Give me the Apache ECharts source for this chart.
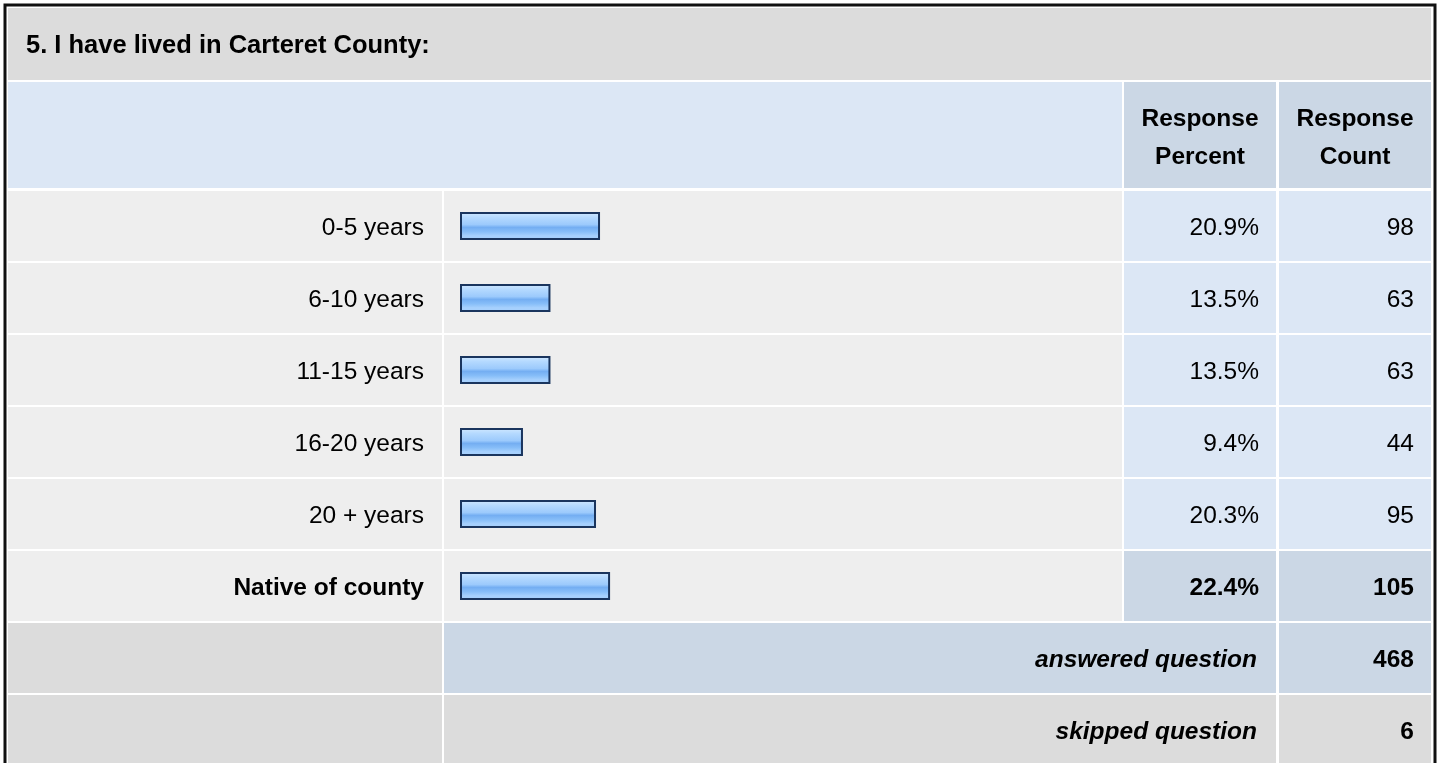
<!DOCTYPE html>
<html>
<head>
<meta charset="utf-8">
<script src="https://cdn.jsdelivr.net/npm/echarts@6/dist/echarts.min.js"></script>
<style>
  html, body { margin: 0; padding: 0; background: #ffffff; }
  #chart { width: 1440px; height: 763px; }
</style>
</head>
<body>
<div id="chart"></div>
<script>
// ---- Data ----
const title = '5. I have lived in Carteret County:';
const headerPercent = 'Response\nPercent';
const headerCount = 'Response\nCount';
const categories = ['0-5 years', '6-10 years', '11-15 years', '16-20 years', '20 + years', 'Native of county'];
const percents = [20.9, 13.5, 13.5, 9.4, 20.3, 22.4];
const counts = [98, 63, 63, 44, 95, 105];
const answeredLabel = 'answered question';
const answeredCount = 468;
const skippedLabel = 'skipped question';
const skippedCount = 6;
const highlightCategory = 'Native of county';

// ---- Layout / style ----
const FONT = '"Liberation Sans", Arial, Helvetica, sans-serif';
const C_GRAY = '#dcdcdc';
const C_ROW = '#eeeeee';
const C_LIGHT = '#dce7f5';
const C_MID = '#cbd7e5';
const X = { l0: 8, l1: 442, b0: 444, b1: 1122, p0: 1124, p1: 1276, c0: 1279, c1: 1431 };
const HALF = 35;
const TXT_DY = 2;

const chart = echarts.init(document.getElementById('chart'), null, { renderer: 'canvas' });

function rect(x0, y0, x1, y1, fill) {
  return { type: 'rect', shape: { x: x0, y: y0, width: x1 - x0, height: y1 - y0 }, style: { fill: fill } };
}
function txt(text, x, y, align, opts) {
  return {
    type: 'text',
    style: Object.assign({
      text: text, x: x, y: y, align: align, verticalAlign: 'middle',
      fontFamily: FONT, fontSize: 24.5, fill: '#000'
    }, opts || {})
  };
}

const rowData = categories.map((c, i) => [percents[i], i, counts[i]]);

const graphics = [
  // title row
  rect(X.l0, 8, X.c1, 80, C_GRAY),
  txt(title, 26, 46, 'left', { fontWeight: 'bold', fontSize: 25.5 }),
  // header row
  rect(X.l0, 82, X.b1, 188, C_LIGHT),
  rect(X.p0, 82, X.p1, 188, C_MID),
  rect(X.c0, 82, X.c1, 188, C_MID),
  txt(headerPercent, (X.p0 + X.p1) / 2, 138, 'center', { fontWeight: 'bold', lineHeight: 38 }),
  txt(headerCount, (X.c0 + X.c1) / 2, 138, 'center', { fontWeight: 'bold', lineHeight: 38 }),
  // answered row
  rect(X.l0, 623, X.l1, 693, C_GRAY),
  rect(X.b0, 623, X.p1, 693, C_MID),
  rect(X.c0, 623, X.c1, 693, C_MID),
  txt(answeredLabel, 1257, 658 + TXT_DY, 'right', { fontWeight: 'bold', fontStyle: 'italic' }),
  txt(String(answeredCount), 1414, 658 + TXT_DY, 'right', { fontWeight: 'bold' }),
  // skipped row
  rect(X.l0, 695, X.l1, 770, C_GRAY),
  rect(X.b0, 695, X.p1, 770, C_GRAY),
  rect(X.c0, 695, X.c1, 770, C_GRAY),
  txt(skippedLabel, 1257, 730 + TXT_DY, 'right', { fontWeight: 'bold', fontStyle: 'italic' }),
  txt(String(skippedCount), 1414, 730 + TXT_DY, 'right', { fontWeight: 'bold' }),
  // outer border
  { type: 'rect', z: 100, shape: { x: 5, y: 5, width: 1430, height: 800 }, style: { fill: 'none', stroke: '#111', lineWidth: 3 } }
];

const option = {
  animation: false,
  backgroundColor: '#ffffff',
  graphic: { elements: graphics },
  grid: { left: 460, top: 190, width: 670, height: 432, containLabel: false },
  xAxis: { type: 'value', min: 0, max: 100, show: false },
  yAxis: {
    type: 'category',
    inverse: true,
    z: 10,
    data: categories,
    axisLine: { show: false },
    axisTick: { show: false },
    splitLine: { show: false },
    axisLabel: {
      margin: 36,
      formatter: function (v) {
        return (v === highlightCategory ? '{b|' : '{n|') + v + '}';
      },
      rich: {
        n: { fontFamily: FONT, fontSize: 24.5, color: '#000', padding: [2 * TXT_DY, 0, 0, 0] },
        b: { fontFamily: FONT, fontSize: 24.5, color: '#000', fontWeight: 'bold', padding: [2 * TXT_DY, 0, 0, 0] }
      }
    }
  },
  series: [
    {
      type: 'custom',
      z: 1,
      clip: false,
      encode: { x: 0, y: 1 },
      data: rowData,
      renderItem: function (params, api) {
        const y = api.coord([0, api.value(1)])[1];
        const idx = api.value(1);
        const hl = categories[idx] === highlightCategory;
        const cell = hl ? C_MID : C_LIGHT;
        const w = hl ? 'bold' : 'normal';
        return {
          type: 'group',
          children: [
            rect(X.l0, y - HALF, X.l1, y + HALF, C_ROW),
            rect(X.b0, y - HALF, X.b1, y + HALF, C_ROW),
            rect(X.p0, y - HALF, X.p1, y + HALF, cell),
            rect(X.c0, y - HALF, X.c1, y + HALF, cell),
            txt(api.value(0).toFixed(1) + '%', 1259, y + TXT_DY, 'right', { fontWeight: w }),
            txt(String(api.value(2)), 1414, y + TXT_DY, 'right', { fontWeight: w })
          ]
        };
      }
    },
    {
      type: 'bar',
      z: 5,
      barWidth: 28,
      data: percents,
      itemStyle: {
        borderColor: '#1a355e',
        borderWidth: 2,
        color: new echarts.graphic.LinearGradient(0, 0, 0, 1, [
          { offset: 0, color: '#d2e9ff' },
          { offset: 0.2, color: '#b4d9ff' },
          { offset: 0.45, color: '#9ccafc' },
          { offset: 0.55, color: '#74aef2' },
          { offset: 0.7, color: '#86bdf8' },
          { offset: 0.85, color: '#a6d0fd' },
          { offset: 1, color: '#a6d0fd' }
        ])
      }
    }
  ]
};

chart.setOption(option);
</script>
</body>
</html>
